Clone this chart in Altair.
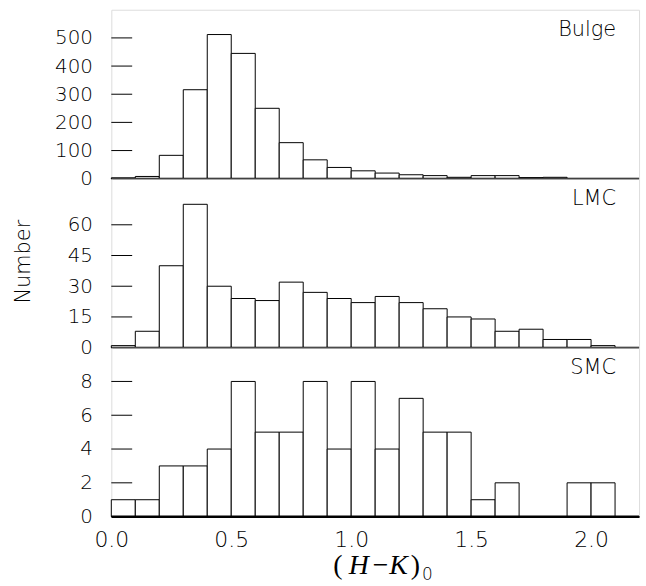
import altair as alt
import pandas as pd

bin_lo = [0.0, 0.1, 0.2, 0.3, 0.4, 0.5, 0.6, 0.7, 0.8, 0.9, 1.0,
          1.1, 1.2, 1.3, 1.4, 1.5, 1.6, 1.7, 1.8, 1.9, 2.0, 2.1]
bin_hi = [0.1, 0.2, 0.3, 0.4, 0.5, 0.6, 0.7, 0.8, 0.9, 1.0, 1.1,
          1.2, 1.3, 1.4, 1.5, 1.6, 1.7, 1.8, 1.9, 2.0, 2.1, 2.2]

bulge = [3, 8, 83, 316, 512, 445, 250, 128, 67, 40, 28, 20, 14, 11, 5, 11, 11, 4, 5, 0, 0, 0]
lmc = [1, 8, 40, 70, 30, 24, 23, 32, 27, 24, 22, 25, 22, 19, 15, 14, 8, 9, 4, 4, 1, 0]
smc = [1, 1, 3, 3, 4, 8, 5, 5, 8, 4, 8, 4, 7, 5, 5, 1, 2, 0, 0, 2, 2, 0]

bulge_ticks = [0, 100, 200, 300, 400, 500]
lmc_ticks = [0, 15, 30, 45, 60]
smc_ticks = [0, 2, 4, 6, 8]
x_ticks = [0.0, 0.5, 1.0, 1.5, 2.0]

# pieces of the x-axis title "(H-K)0"
title_parts = ["(", "H", "\u2212", "K", ")", "0"]

W, H = 531, 170
SANS = "DejaVu Sans"
SERIF = "Liberation Serif"
LW = 200


def panel(values, label, ymax, ticks, bottom, middle):
    df = pd.DataFrame({"lo": bin_lo, "hi": bin_hi, "n": values})
    tdf = pd.DataFrame({"n": ticks})
    xscale = alt.Scale(domain=[0, 2.2], nice=False, zero=False)
    yscale = alt.Scale(domain=[0, ymax], nice=False)
    if bottom:
        xaxis = alt.Axis(values=x_ticks, format=".1f", ticks=False, grid=False,
                         domainWidth=2, domainColor="black", labelFlush=False,
                         labelFontSize=22, labelPadding=13, labelFont=SANS,
                         labelFontWeight=LW, labelColor="black", title="")
    else:
        xaxis = None
    yaxis_kw = dict(values=ticks, ticks=False, grid=False, domain=False,
                    labelFontSize=20, labelPadding=19, labelFont=SANS,
                    labelFontWeight=LW, labelColor="black", labelOverlap=False,
                    labelFlush=False, labelBound=False)
    if middle:
        yaxis_kw.update(title="Number", titleFont=SANS, titleFontWeight=LW,
                        titleFontSize=21, titleX=-88, titleY=H / 2 - 2,
                        titleBaseline="middle", titleColor="black")
    else:
        yaxis_kw.update(title="")
    yax = alt.Axis(**yaxis_kw)

    bars = alt.Chart(df).mark_rect(fill="white", stroke="black", strokeWidth=1).encode(
        x=alt.X("lo:Q", scale=xscale, axis=xaxis),
        x2="hi:Q",
        y=alt.Y("n:Q", scale=yscale, axis=yax),
        y2=alt.datum(0),
    )
    tick_rules = alt.Chart(tdf).mark_rule(color="black", strokeWidth=1).encode(
        y=alt.Y("n:Q", scale=yscale, axis=yax),
        x=alt.value(0),
        x2=alt.value(21),
    )
    zero_line = alt.Chart(pd.DataFrame({"n": [0]})).mark_rule(
        color="black", strokeWidth=2
    ).encode(y=alt.Y("n:Q", scale=yscale, axis=yax), x=alt.value(0), x2=alt.value(W))
    txt = alt.Chart(pd.DataFrame({"t": [label]})).mark_text(
        align="right", baseline="alphabetic", fontSize=21, font=SANS,
        fontWeight=LW, color="black"
    ).encode(x=alt.value(508), y=alt.value(26), text="t:N")
    layers = [bars, tick_rules, zero_line, txt]
    if bottom:
        def piece(i, x, y, font, size, style, weight):
            return alt.Chart(pd.DataFrame({"t": [title_parts[i]]})).mark_text(
                align="center", baseline="alphabetic", font=font, fontSize=size,
                fontStyle=style, fontWeight=weight, color="black"
            ).encode(x=alt.value(x), y=alt.value(y), text="t:N")
        layers += [
            piece(0, 228, 228, SERIF, 28, "normal", "normal"),
            piece(1, 249, 228, SERIF, 28, "italic", "normal"),
            piece(2, 271, 228, SERIF, 28, "normal", "normal"),
            piece(3, 289, 228, SERIF, 28, "italic", "normal"),
            piece(4, 306, 228, SERIF, 28, "normal", "normal"),
            piece(5, 318, 234, SANS, 17, "normal", LW),
        ]
    return alt.layer(*layers).properties(width=W, height=H)


chart = alt.vconcat(
    panel(bulge, "Bulge", 600, bulge_ticks, False, False),
    panel(lmc, "LMC", 82.5, lmc_ticks, False, True),
    panel(smc, "SMC", 10, smc_ticks, True, False),
    spacing=0,
    bounds="flush",
).properties(
    padding={"left": 12, "top": 7, "right": 5, "bottom": 0}
).configure_view(
    stroke="black", strokeWidth=1.5
).configure_axis(
    labelOverlap=False
).configure(background="white")

chart.save("out.html", embed_options={"renderer": "svg", "actions": False})
